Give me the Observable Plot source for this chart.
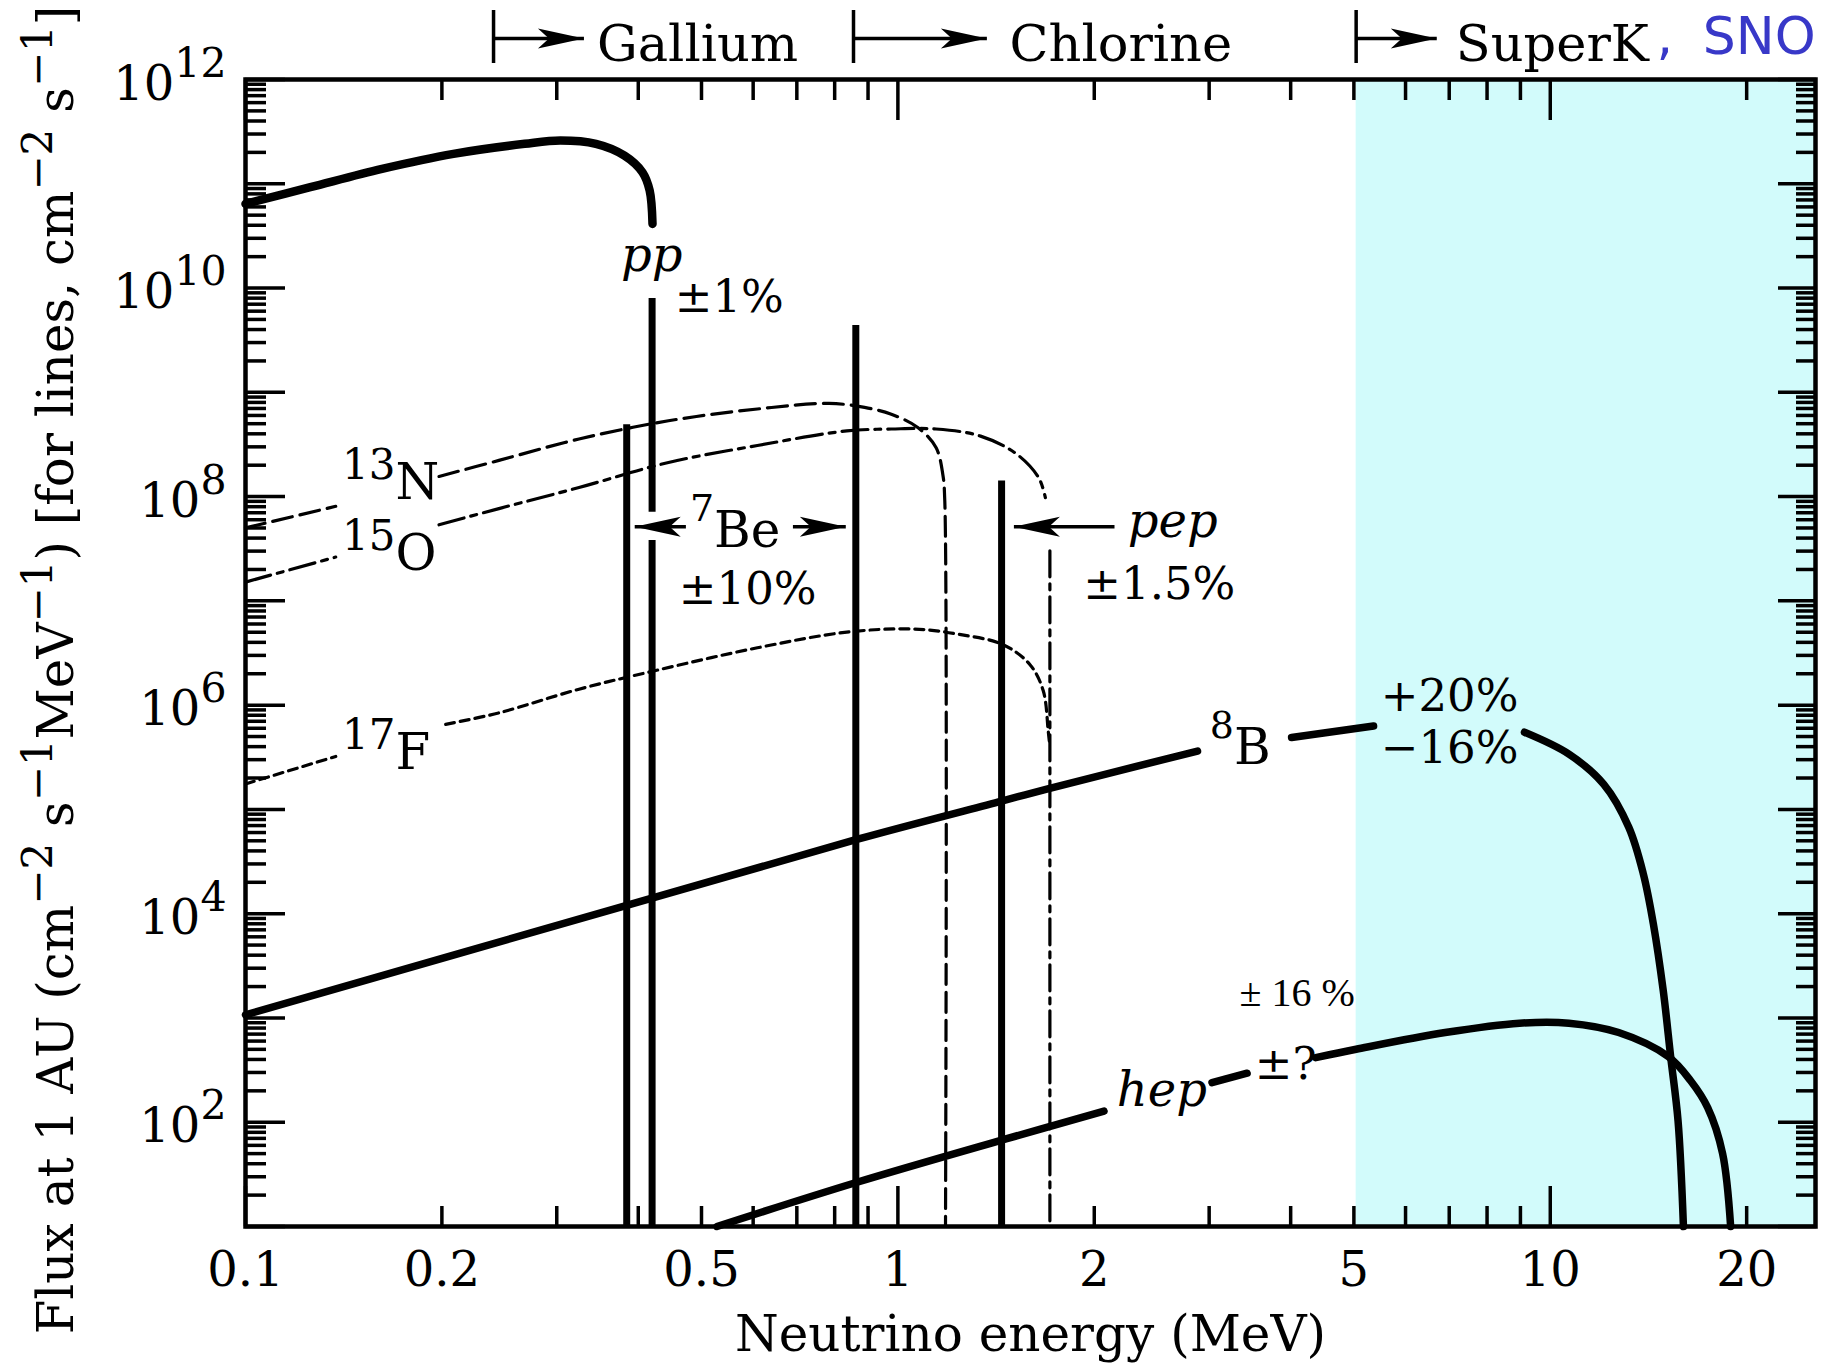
<!DOCTYPE html>
<html>
<head>
<meta charset="utf-8">
<script src="https://cdn.jsdelivr.net/npm/d3@7"></script>
<script src="https://cdn.jsdelivr.net/npm/@observablehq/plot@0.6"></script>
<style>
html, body { margin: 0; padding: 0; background: #fff; }
#chart svg { display: block; }
</style>
</head>
<body>
<div id="chart"></div>
<script>
// ---------------- data (energy in MeV, flux given as log10 value) ----------------
const ppSpectrum = [
  [0.1, 10.807], [0.1257, 10.967], [0.1619, 11.143], [0.2083, 11.287], [0.2679, 11.383],
  [0.3038, 11.415], [0.3445, 11.383], [0.381, 11.27], [0.406, 11.11], [0.4164, 10.935], [0.4206, 10.615]
];
// third entry = segment id (gaps where labels sit)
const n13Spectrum = [
  [0.1, 7.70, 0], [0.1375, 7.907, 0],
  [0.198, 8.193, 1], [0.2446, 8.347, 1], [0.3245, 8.552, 1], [0.445, 8.727, 1], [0.609, 8.84, 1],
  [0.784, 8.894, 1], [0.889, 8.855, 1], [0.977, 8.79, 1], [1.074, 8.66, 1], [1.144, 8.47, 1],
  [1.172, 8.21, 1], [1.18, 7.96, 1], [1.183, 1.0, 1]
];
const o15Spectrum = [
  [0.1, 7.18, 0], [0.1375, 7.42, 0],
  [0.198, 7.73, 1], [0.2446, 7.885, 1], [0.3245, 8.087, 1], [0.445, 8.327, 1], [0.609, 8.49, 1],
  [0.835, 8.63, 1], [0.977, 8.648, 1], [1.144, 8.648, 1], [1.339, 8.58, 1], [1.519, 8.41, 1],
  [1.644, 8.18, 1], [1.683, 7.99, 1],
  [1.71, 7.48, 2], [1.71, 1.0, 2]
];
const f17Spectrum = [
  [0.1, 5.244, 0], [0.1375, 5.508, 0],
  [0.2027, 5.816, 1], [0.2446, 5.926, 1], [0.3245, 6.153, 1], [0.424, 6.33, 1], [0.609, 6.55, 1],
  [0.835, 6.70, 1], [1.057, 6.73, 1], [1.238, 6.68, 1], [1.449, 6.58, 1], [1.593, 6.39, 1],
  [1.67, 6.14, 1], [1.70, 5.75, 1], [1.71, 5.6, 1]
];
const b8Spectrum = [
  [0.1, 3.03, 0], [0.384, 4.08, 0], [0.862, 4.71, 0], [1.442, 5.08, 0], [1.703, 5.20, 0], [2.879, 5.56, 0],
  [4.013, 5.69, 1], [5.36, 5.80, 1],
  [9.13, 5.74, 2], [10.68, 5.53, 2], [12.08, 5.24, 2], [13.19, 4.83, 2], [13.89, 4.38, 2],
  [14.39, 3.90, 2], [14.9, 3.26, 2], [15.3, 2.62, 2], [15.7, 2.01, 2], [16.0, 1.0, 2]
];
const hepSpectrum = [
  [0.528, 1.0, 0], [0.858, 1.417, 0], [1.446, 1.83, 0], [2.07, 2.106, 0],
  [3.03, 2.38, 1], [3.43, 2.47, 1],
  [4.37, 2.62, 2], [5.04, 2.70, 2], [6.90, 2.86, 2], [8.97, 2.95, 2], [10.68, 2.95, 2],
  [12.73, 2.86, 2], [15.16, 2.63, 2], [16.4, 2.40, 2], [17.43, 2.14, 2], [18.37, 1.70, 2], [18.9, 1.0, 2]
];
// monoenergetic lines: energy, lower and upper log10 flux
const lineSpectra = [
  {source: "7Be", E: 0.384, lo: 1, hi: 8.69},
  {source: "pp", E: 0.42, lo: 7.85, hi: 9.90},
  {source: "pp", E: 0.42, lo: 1, hi: 7.58},
  {source: "7Be", E: 0.862, lo: 1, hi: 9.64},
  {source: "pep", E: 1.442, lo: 1, hi: 8.15}
];
const lineArrows = [
  {label: "7Be", from: 0.4732, tip: 0.395, F: 7.71},
  {label: "7Be", from: 0.6904, tip: 0.832, F: 7.71},
  {label: "pep", from: 2.148, tip: 1.506, F: 7.71}
];
const superKRange = [{x1: 5.04, x2: 25.5}];
const detectorThresholds = [
  {detector: "Gallium", E: 0.24, arrowTip: 0.3302, labelE: 0.3457},
  {detector: "Chlorine", E: 0.855, arrowTip: 1.369, labelE: 1.483},
  {detector: "SuperK", E: 5.04, arrowTip: 6.699, labelE: 7.165}
];
const snoLabels = [{text: ",", E: 14.55}, {text: "SNO", E: 17.13}];

const italicLabels = [
  {text: "pp", E: 0.3763, F: 10.167},
  {text: "pep", E: 2.251, F: 7.608},
  {text: "hep", E: 2.166, F: 2.153}
];
const uncertaintyLabels = [
  {text: "±1%", E: 0.455, F: 9.773},
  {text: "±10%", E: 0.4616, F: 6.974},
  {text: "±1.5%", E: 1.924, F: 7.019},
  {text: "+20%", E: 5.497, F: 5.944},
  {text: "−16%", E: 5.497, F: 5.445},
  {text: "±?", E: 3.525, F: 2.413}
];
const hepNote = [{text: "± 16 %", E: 3.34, F: 3.113}];
const isotopeLabels = [
  {text: "^{13}N", E: 0.1406, F: 7.979},
  {text: "^{15}O", E: 0.1406, F: 7.297},
  {text: "^{17}F", E: 0.1406, F: 5.388}
];
const isotopeLabels2 = [
  {text: "^{7}Be", E: 0.48, F: 7.521},
  {text: "^{8}B", E: 3.007, F: 5.436}
];

const xMajorTicks = [0.1, 1, 10];
const xMinorTicks = [0.2, 0.3, 0.4, 0.5, 0.6, 0.7, 0.8, 0.9, 2, 3, 4, 5, 6, 7, 8, 9, 20];
const xTickLabels = [0.1, 0.2, 0.5, 1, 2, 5, 10, 20];
const yMajorTicks = d3.range(1, 13).map(k => 10 ** k);
const yMinorTicks = d3.range(1, 12).flatMap(k => d3.range(2, 10).map(m => m * 10 ** k));
const yTickExponents = [2, 4, 6, 8, 10, 12];

const xTitle = "Neutrino energy (MeV)";
const yTitle = "Flux at 1 AU (cm^{−2} s^{−1}MeV^{−1}) [for lines, cm^{−2} s^{−1}]";

// ---------------- helpers ----------------
const headRight = {draw(c) { c.moveTo(0, 0); c.lineTo(-46, -10); c.lineTo(-35, 0); c.lineTo(-46, 10); c.closePath(); }};
const headLeft = {draw(c) { c.moveTo(0, 0); c.lineTo(46, -10); c.lineTo(35, 0); c.lineTo(46, 10); c.closePath(); }};
const frameTop = () => 1e12;
const fx = d => d[0], fy = d => 10 ** d[1], fz = d => d[2];

const serif = "'DejaVu Serif', 'Liberation Serif', serif";

const chart = Plot.plot({
  width: 1827,
  height: 1367,
  marginLeft: 245,
  marginRight: 12,
  marginTop: 79,
  marginBottom: 141,
  style: {fontFamily: serif, background: "white", overflow: "visible"},
  x: {type: "log", domain: [0.1, 25.5], axis: null},
  y: {type: "log", domain: [10, 1e12], axis: null},
  marks: [
    Plot.rect(superKRange, {x1: "x1", x2: "x2", fill: "#d2fbfb"}),

    // continuum spectra
    Plot.line(n13Spectrum, {x: fx, y: fy, z: fz, curve: "catmull-rom", stroke: "black", strokeWidth: 3.2, strokeDasharray: "20,8"}),
    Plot.line(o15Spectrum, {x: fx, y: fy, z: fz, curve: "catmull-rom", stroke: "black", strokeWidth: 3.2, strokeDasharray: "26,7,6,7"}),
    Plot.line(f17Spectrum, {x: fx, y: fy, z: fz, curve: "catmull-rom", stroke: "black", strokeWidth: 3.2, strokeDasharray: "9,6"}),
    Plot.line(ppSpectrum, {x: fx, y: fy, curve: "catmull-rom", stroke: "black", strokeWidth: 8.5}),
    Plot.line(b8Spectrum, {x: fx, y: fy, z: fz, curve: "catmull-rom", stroke: "black", strokeWidth: 7.5}),
    Plot.line(hepSpectrum, {x: fx, y: fy, z: fz, curve: "catmull-rom", stroke: "black", strokeWidth: 7.5}),

    // line sources
    Plot.ruleX(lineSpectra, {x: "E", y1: d => 10 ** d.lo, y2: d => 10 ** d.hi, stroke: "black", strokeWidth: 7}),

    // 7Be / pep arrows
    Plot.link(lineArrows, {x1: "from", x2: "tip", y1: d => 10 ** d.F, y2: d => 10 ** d.F, stroke: "black", strokeWidth: 3.5}),
    Plot.dot(lineArrows.filter(d => d.tip > d.from), {x: "tip", y: d => 10 ** d.F, symbol: headRight, r: 10, fill: "black", stroke: "none"}),
    Plot.dot(lineArrows.filter(d => d.tip < d.from), {x: "tip", y: d => 10 ** d.F, symbol: headLeft, r: 10, fill: "black", stroke: "none"}),

    // labels in the plot
    Plot.text(italicLabels, {x: "E", y: d => 10 ** d.F, text: "text", textAnchor: "start", lineAnchor: "bottom", fontSize: 48, fontStyle: "italic"}),
    Plot.text(uncertaintyLabels, {x: "E", y: d => 10 ** d.F, text: "text", textAnchor: "start", lineAnchor: "bottom", fontSize: 45}),
    Plot.text(hepNote, {x: "E", y: d => 10 ** d.F, text: "text", textAnchor: "start", lineAnchor: "bottom", fontSize: 40, fontFamily: "'Liberation Serif', serif"}),
    Plot.text(isotopeLabels, {x: "E", y: d => 10 ** d.F, text: "text", textAnchor: "start", lineAnchor: "bottom", fontSize: 50, ariaDescription: "iso"}),
    Plot.text(isotopeLabels2, {x: "E", y: d => 10 ** d.F, text: "text", textAnchor: "start", lineAnchor: "bottom", fontSize: 50, ariaDescription: "iso2"}),

    // inward ticks on all four sides
    Plot.axisY({anchor: "left", ticks: yMajorTicks, tickSize: 40, dx: 40, tickFormat: () => "", label: null, strokeWidth: 3.5}),
    Plot.axisY({anchor: "left", ticks: yMinorTicks, tickSize: 21, dx: 21, tickFormat: () => "", label: null, strokeWidth: 3.5}),
    Plot.axisY({anchor: "right", ticks: yMajorTicks, tickSize: 38, dx: -38, tickFormat: () => "", label: null, strokeWidth: 3.5}),
    Plot.axisY({anchor: "right", ticks: yMinorTicks, tickSize: 20, dx: -20, tickFormat: () => "", label: null, strokeWidth: 3.5}),
    Plot.axisX({anchor: "bottom", ticks: xMajorTicks, tickSize: 40, dy: -40, tickFormat: () => "", label: null, strokeWidth: 3.5}),
    Plot.axisX({anchor: "bottom", ticks: xMinorTicks, tickSize: 20, dy: -20, tickFormat: () => "", label: null, strokeWidth: 3.5}),
    Plot.axisX({anchor: "top", ticks: xMajorTicks, tickSize: 40, dy: 40, tickFormat: () => "", label: null, strokeWidth: 3.5}),
    Plot.axisX({anchor: "top", ticks: xMinorTicks, tickSize: 20, dy: 20, tickFormat: () => "", label: null, strokeWidth: 3.5}),
    Plot.frame({stroke: "black", strokeWidth: 4.5}),

    // tick labels
    Plot.text(xTickLabels, {x: d => d, frameAnchor: "bottom", dy: 59, lineAnchor: "bottom", text: d => String(d), fontSize: 48}),
    Plot.text(yTickExponents, {y: d => 10 ** d, frameAnchor: "left", dx: -19, dy: 20, textAnchor: "end", lineAnchor: "bottom", text: d => `10^{${d}}`, fontSize: 48, ariaDescription: "ytick"}),

    // axis titles
    Plot.text([xTitle], {frameAnchor: "bottom", dy: 124, lineAnchor: "bottom", fontSize: 50}),
    Plot.text([yTitle], {frameAnchor: "left", rotate: -90, dx: -173, dy: 17, textAnchor: "middle", lineAnchor: "bottom", fontSize: 50, ariaDescription: "ytitle"}),

    // detector thresholds above the frame
    Plot.ruleX(detectorThresholds, {x: "E", y1: frameTop, y2: frameTop, insetTop: -69, insetBottom: 16, stroke: "black", strokeWidth: 3.5}),
    Plot.link(detectorThresholds, {x1: "E", x2: "arrowTip", y1: frameTop, y2: frameTop, dy: -41, stroke: "black", strokeWidth: 3.5}),
    Plot.dot(detectorThresholds, {x: "arrowTip", y: frameTop, dy: -41, symbol: headRight, r: 10, fill: "black", stroke: "none"}),
    Plot.text(detectorThresholds, {x: "labelE", y: frameTop, dy: -19, text: "detector", textAnchor: "start", lineAnchor: "bottom", fontSize: 51}),
    Plot.text(snoLabels, {x: "E", y: frameTop, dy: -26, text: "text", textAnchor: "start", lineAnchor: "bottom", fontSize: 52, fill: "#3838c8", fontFamily: "'DejaVu Sans', sans-serif"})
  ]
});

// superscript markup ^{...} -> tspans
const richParams = {
  ytick: {sup: 41, rise: 23},
  iso: {sup: 42, rise: 20},
  iso2: {sup: 38, rise: 26},
  ytitle: {sup: 42, rise: 21}
};
function richify(svg) {
  for (const [key, p] of Object.entries(richParams)) {
    svg.querySelectorAll(`g[aria-description="${key}"] text`).forEach(t => {
      const s = t.textContent;
      const parts = s.split(/(\^\{[^}]*\})/).filter(x => x !== "");
      t.textContent = "";
      let raised = false;
      for (const part of parts) {
        const ts = document.createElementNS("http://www.w3.org/2000/svg", "tspan");
        if (part.startsWith("^{")) {
          ts.textContent = part.slice(2, -1);
          ts.setAttribute("font-size", p.sup);
          ts.setAttribute("dy", -p.rise);
          raised = true;
        } else {
          ts.textContent = part;
          if (raised) ts.setAttribute("dy", p.rise);
          raised = false;
        }
        t.appendChild(ts);
      }
    });
  }
}
document.getElementById("chart").append(chart);
richify(chart);
</script>
</body>
</html>
